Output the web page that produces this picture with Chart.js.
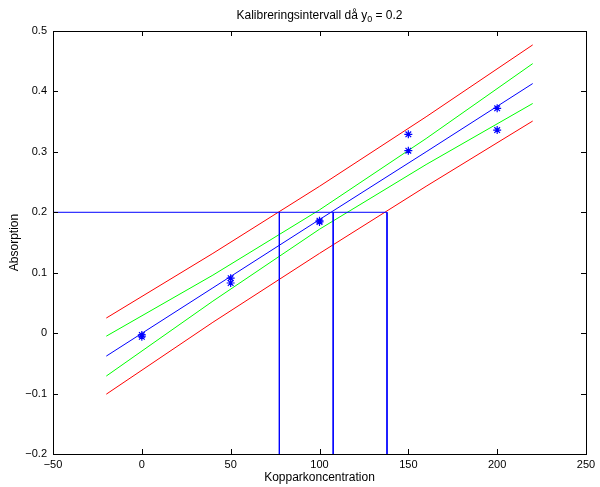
<!DOCTYPE html>
<html><head><meta charset="utf-8">
<script src="https://cdn.jsdelivr.net/npm/chart.js@4.4.1/dist/chart.umd.min.js"></script>
<style>html,body{margin:0;padding:0;background:#fff;} #wrap{width:600px;height:487px;position:relative;}</style>
</head><body><div id="wrap"><canvas id="c"></canvas></div>
<script>
// ---- text ----
const titleMain = 'Kalibreringsintervall då y';
const titleSub = '0';
const titleTail = ' = 0.2';
const xTitle = 'Kopparkoncentration';
const yTitle = 'Absorption';

// ---- axes ----
const xMin = -50, xMax = 250, xStep = 50;
const yMin = -0.2, yMax = 0.5, yStep = 0.1;

// ---- measurements (asterisks) ----
const measX = [0, 0, 50, 50, 100, 100, 150, 150, 200, 200];
const measY = [-0.003, -0.006, 0.091, 0.083, 0.184, 0.186, 0.329, 0.302, 0.372, 0.336];

// ---- fitted line and interval bands ----
const bandX     = [-20, 40, 100, 160, 220];
const fitY      = [-0.038, 0.075, 0.188, 0.300, 0.413];
const confUpper = [-0.005, 0.096, 0.204, 0.322, 0.446];
const confLower = [-0.071, 0.053, 0.172, 0.279, 0.380];
const predUpper = [0.025, 0.132, 0.243, 0.358, 0.477];
const predLower = [-0.101, 0.018, 0.132, 0.243, 0.351];

// ---- calibration interval at y0 ----
const y0 = 0.2;
const xHat = 107.7;
const xLow = 77.4;
const xHigh = 138;

const FONT = "'Liberation Sans', Arial, Helvetica, sans-serif";
const pts = (xs, ys) => xs.map((x, i) => ({x: x, y: ys[i]}));
const lineDs = (data, color, order) => ({type: 'line', data: data, borderColor: color, borderWidth: 1,
  pointRadius: 0, fill: false, tension: 0, order: order});

const fmt = v => {
  const r = Math.round(v * 10) / 10;
  return r < 0 ? '\u2212' + Math.abs(r) : String(r);
};

const boxPlugin = {
  id: 'matlabBox',
  afterDraw(chart) {
    const ctx = chart.ctx, a = chart.chartArea;
    const sx = chart.scales.x, sy = chart.scales.y;
    ctx.save();
    ctx.strokeStyle = '#000';
    ctx.lineWidth = 1;
    ctx.strokeRect(Math.round(a.left) + 0.5, Math.round(a.top) + 0.5,
      Math.round(a.right - a.left), Math.round(a.bottom - a.top));
    const L = 5;
    ctx.beginPath();
    sx.ticks.forEach(t => {
      const px = Math.round(sx.getPixelForValue(t.value)) + 0.5;
      ctx.moveTo(px, a.bottom); ctx.lineTo(px, a.bottom - L);
      ctx.moveTo(px, a.top); ctx.lineTo(px, a.top + L);
    });
    sy.ticks.forEach(t => {
      const py = Math.round(sy.getPixelForValue(t.value)) + 0.5;
      ctx.moveTo(a.left, py); ctx.lineTo(a.left + L, py);
      ctx.moveTo(a.right, py); ctx.lineTo(a.right - L, py);
    });
    ctx.stroke();
    // title with subscript
    ctx.fillStyle = '#000';
    ctx.textBaseline = 'alphabetic';
    const f1 = '12px ' + FONT, f2 = '9px ' + FONT;
    ctx.font = f1;
    const w1 = ctx.measureText(titleMain).width;
    const w3 = ctx.measureText(titleTail).width;
    ctx.font = f2;
    const w2 = ctx.measureText(titleSub).width;
    const total = w1 + w2 + w3;
    let x = (a.left + a.right) / 2 - total / 2;
    const base = 19;
    ctx.font = f1; ctx.textAlign = 'left';
    ctx.fillText(titleMain, x, base); x += w1;
    ctx.font = f2; ctx.fillText(titleSub, x, base + 3); x += w2;
    ctx.font = f1; ctx.fillText(titleTail, x, base);
    ctx.restore();
  }
};

new Chart(document.getElementById('c'), {
  type: 'scatter',
  data: {
    datasets: [
      lineDs(pts(bandX, predUpper), '#ff0000', 5),
      lineDs(pts(bandX, predLower), '#ff0000', 5),
      lineDs(pts(bandX, confUpper), '#00ff00', 4),
      lineDs(pts(bandX, confLower), '#00ff00', 4),
      lineDs(pts(bandX, fitY), '#0000ff', 3),
      lineDs([{x: xMin, y: y0}, {x: xHigh, y: y0}], '#0000ff', 2),
      lineDs([{x: xLow, y: y0}, {x: xLow, y: yMin}], '#0000ff', 2),
      lineDs([{x: xHat, y: y0}, {x: xHat, y: yMin}], '#0000ff', 2),
      lineDs([{x: xHigh, y: y0}, {x: xHigh, y: yMin}], '#0000ff', 2),
      {type: 'scatter', data: pts(measX, measY), pointStyle: 'star', pointRadius: 4,
        borderColor: '#0000ff', backgroundColor: '#0000ff', borderWidth: 1.2, order: 1}
    ]
  },
  options: {
    responsive: true,
    maintainAspectRatio: false,
    animation: false,
    events: [],
    layout: {padding: {top: 31, right: 14, left: 0, bottom: 0}},
    plugins: {legend: {display: false}, tooltip: {enabled: false}, title: {display: false}},
    scales: {
      x: {
        type: 'linear', min: xMin, max: xMax,
        grid: {display: false, drawTicks: false},
        border: {display: false},
        ticks: {stepSize: xStep, padding: 4, color: '#000', font: {family: FONT, size: 11},
          callback: v => fmt(v), maxRotation: 0, autoSkip: false},
        title: {display: true, text: xTitle, color: '#000', font: {family: FONT, size: 12},
          padding: {top: 0, bottom: 2}},
        afterFit: s => { s.height = 33; }
      },
      y: {
        type: 'linear', min: yMin, max: yMax,
        grid: {display: false, drawTicks: false},
        border: {display: false},
        ticks: {stepSize: yStep, padding: 6, color: '#000', font: {family: FONT, size: 11},
          callback: v => fmt(v), autoSkip: false},
        title: {display: true, text: yTitle, color: '#000', font: {family: FONT, size: 12},
          padding: {top: 7, bottom: 0}},
        afterFit: s => { s.width = 53; }
      }
    }
  },
  plugins: [boxPlugin]
});
</script>
</body></html>
